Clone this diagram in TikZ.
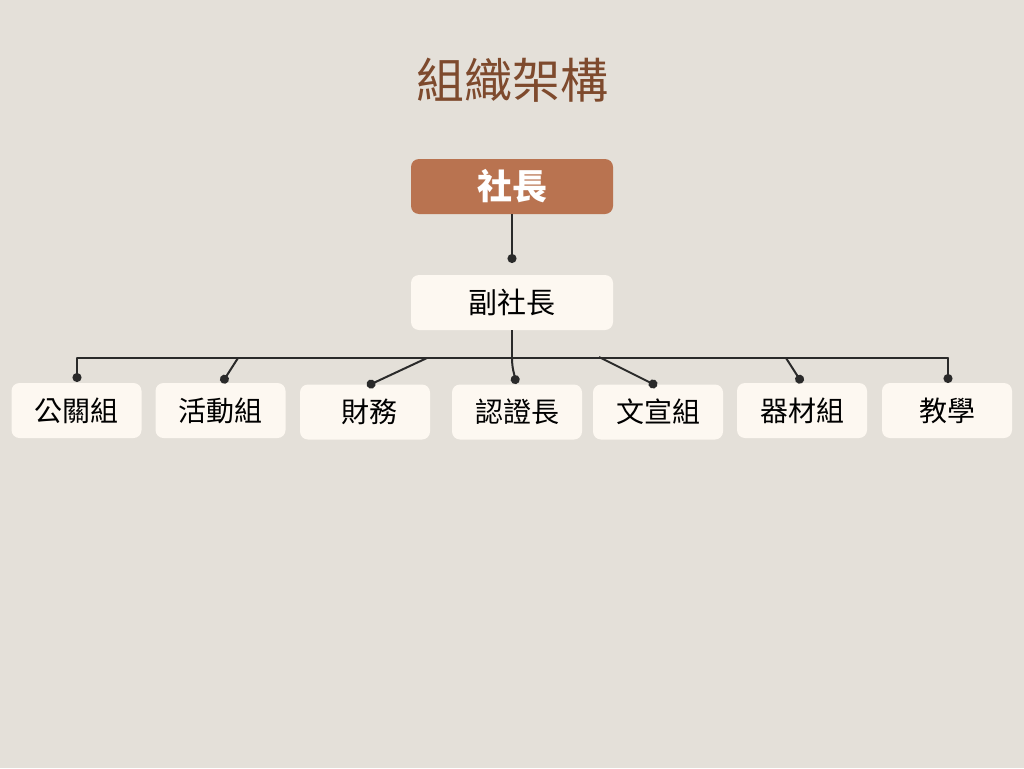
\documentclass[tikz,border=0pt]{standalone}
\usepackage{fontspec}
\setmainfont{Noto Sans CJK TC}
\usepackage{xcolor}
\usepackage{tikz}
\usetikzlibrary{arrows.meta}
\definecolor{paper}{HTML}{E4E0D9}
\definecolor{cream}{HTML}{FDF8F1}
\definecolor{rust}{HTML}{B97350}
\definecolor{titlebrown}{HTML}{7E4A2D}
\definecolor{ink}{HTML}{2A2A2A}
\tikzset{head box/.style={fill=rust, text=white, rounded corners=8pt, minimum width=202pt, minimum height=55pt, font=\fontsize{35}{38}\selectfont\bfseries}}
\tikzset{vice box/.style={fill=cream, rounded corners=8pt, minimum width=202pt, minimum height=55pt, font=\fontsize{29}{32}\selectfont}}
\tikzset{team box/.style={fill=cream, rounded corners=8pt, minimum width=130pt, minimum height=55pt, font=\fontsize{28}{31}\selectfont}}
\tikzset{link/.style={draw=ink, line width=2pt}}
\tikzset{every edge/.style={draw=ink, line width=2pt, -{Circle[length=9pt]}}}

\begin{document}
\begin{tikzpicture}[x=1pt, y=-1pt]
  \fill[paper] (0,0) rectangle (1024,768);
  \useasboundingbox (0,0) rectangle (1024,768);

  \node[text=titlebrown, font=\fontsize{48}{52}\selectfont] at (512, 80) (title) {組織架構};

  \node[head box] at (512, 186.5) (head) {社長};
  \node[vice box] at (512, 302.5) (vice) {副社長};
  \coordinate (vice dot) at (512, 263);
  \draw (head) edge (vice dot);

  % bus line
  \coordinate (busL) at (77, 358);
  \coordinate (busR) at (948, 358);
  \draw[link] (vice.south) -- (vice.south |- busL);
  \draw[link, line cap=round] (busL) -- (busR);

  % teams
  \node[team box] at (76.5, 410.5) (pr) {公關組};
  \node[team box] at (220.5, 410.5) (event) {活動組};
  \node[team box] at (365, 412) (finance) {\hspace{8pt}財務};
  \node[team box] at (517, 412) (cert) {認證長};
  \node[team box] at (658, 412) (media) {文宣組};
  \node[team box] at (802, 410.5) (gear) {器材組};
  \node[team box] at (947, 410.5) (teach) {教學};

  \coordinate (pr top) at (77, 358);
  \coordinate (event top) at (238, 358);
  \coordinate (finance top) at (427, 358);
  \coordinate (cert top) at (512, 358);
  \coordinate (media top) at (599, 357);
  \coordinate (gear top) at (786, 358);
  \coordinate (teach top) at (948, 358);

  \coordinate (pr dot) at (77, 382);
  \coordinate (event dot) at (222, 383);
  \coordinate (finance dot) at (367, 386);
  \coordinate (media dot) at (657, 386);
  \coordinate (gear dot) at (802, 383);
  \coordinate (teach dot) at (948, 383);

  \draw (pr top) edge (pr dot);
  \draw (event top) edge (event dot);
  \draw (finance top) edge (finance dot);
  \draw (cert top) edge[out=-90, in=100] (516, 384);
  \draw (media top) edge (media dot);
  \draw (gear top) edge (gear dot);
  \draw (teach top) edge (teach dot);
\end{tikzpicture}
\end{document}
